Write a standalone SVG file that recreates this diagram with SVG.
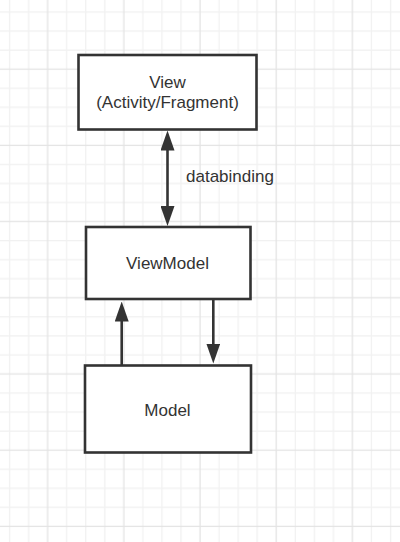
<svg xmlns="http://www.w3.org/2000/svg" width="400" height="542" viewBox="0 0 400 542">
  <style>
    .box { fill: #ffffff; stroke: #333333; stroke-width: 2.6; }
    .lbl { font-family: "Liberation Sans", Arial, sans-serif; font-size: 17px; fill: #333333; text-anchor: middle; }
    .conn { stroke: #333333; stroke-width: 2.6; fill: none; }
    .minor { fill: #f1f1f1; }
    .major { fill: #e4e4e4; }
  </style>
  <defs>
    <pattern id="grid" patternUnits="userSpaceOnUse" x="0" y="2.475" width="76.2" height="76.2">
      <rect class="minor" x="8.9" y="0" width="1.3" height="76.2"/>
      <rect class="minor" x="27.95" y="0" width="1.3" height="76.2"/>
      <rect class="minor" x="66.05" y="0" width="1.3" height="76.2"/>
      <rect class="minor" x="0" y="8.9" width="76.2" height="1.3"/>
      <rect class="minor" x="0" y="27.95" width="76.2" height="1.3"/>
      <rect class="minor" x="0" y="47" width="76.2" height="1.3"/>
      <rect class="major" x="47" y="0" width="1.3" height="76.2"/>
      <rect class="major" x="0" y="66.05" width="76.2" height="1.3"/>
    </pattern>
    <marker id="arrow" markerUnits="userSpaceOnUse" markerWidth="20" markerHeight="14" refX="10" refY="7" orient="auto-start-reverse" viewBox="0 0 20 14">
      <path d="M0,0 L20,7 L0,14 z" fill="#333333"/>
    </marker>
  </defs>
  <rect x="0" y="0" width="400" height="542" fill="#ffffff"/>
  <rect x="0" y="0" width="400" height="542" fill="url(#grid)"/>

  <g id="connectors">
    <line class="conn" x1="167.5" y1="140.5" x2="167.5" y2="216" marker-start="url(#arrow)" marker-end="url(#arrow)"/>
    <text class="lbl" x="186" y="181.5" style="text-anchor:start">databinding</text>
    <line class="conn" x1="121.7" y1="365" x2="121.7" y2="311.5" marker-end="url(#arrow)"/>
    <line class="conn" x1="213.3" y1="299" x2="213.3" y2="353.5" marker-end="url(#arrow)"/>
  </g>

  <g id="view">
    <rect class="box" x="78.5" y="55" width="178" height="74.5"/>
    <text class="lbl" x="167.5" y="88.3">View</text>
    <text class="lbl" x="167.5" y="107.5">(Activity/Fragment)</text>
  </g>

  <g id="viewmodel">
    <rect class="box" x="86" y="227" width="164.5" height="72"/>
    <text class="lbl" x="167.5" y="269.3">ViewModel</text>
  </g>

  <g id="model">
    <rect class="box" x="85" y="365.5" width="166" height="87"/>
    <text class="lbl" x="167.5" y="415.5">Model</text>
  </g>
</svg>
